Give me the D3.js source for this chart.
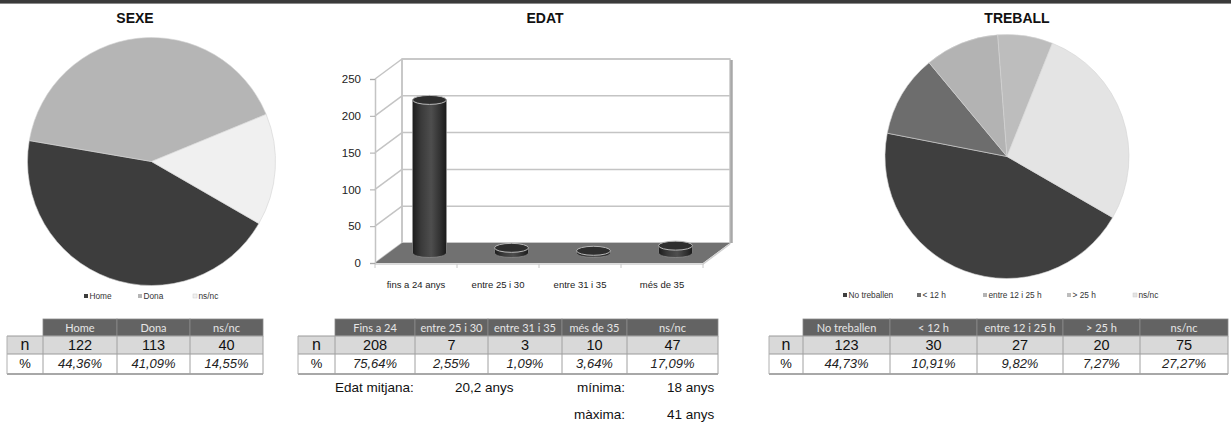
<!DOCTYPE html>
<html><head><meta charset="utf-8">
<script src="https://cdn.jsdelivr.net/npm/d3@7"></script>
<style>body{margin:0;background:#fff;} svg{display:block;font-family:"Liberation Sans",Arial,sans-serif;}</style>
</head><body><svg id="c" width="1231" height="430"></svg>
<script>
// ---------- DATA ----------
const sexeCats = ["Home", "Dona", "ns/nc"];
const sexeN = [122, 113, 40];
const sexePct = ["44,36%", "41,09%", "14,55%"];

const edatCats = ["fins a 24 anys", "entre 25 i 30", "entre 31 i 35", "més de 35"];
const edatVals = [208, 7, 3, 10];
const edatTicks = [0, 50, 100, 150, 200, 250];
const edatTableCats = ["Fins a 24", "entre 25 i 30", "entre 31 i 35", "més de 35", "ns/nc"];
const edatN = [208, 7, 3, 10, 47];
const edatPct = ["75,64%", "2,55%", "1,09%", "3,64%", "17,09%"];
const edatStatLabels = ["Edat mitjana:", "mínima:", "màxima:"];
const edatStatValues = ["20,2 anys", "18 anys", "41 anys"];

const treballCats = ["No treballen", "< 12 h", "entre 12 i 25 h", "> 25 h", "ns/nc"];
const treballN = [123, 30, 27, 20, 75];
const treballPct = ["44,73%", "10,91%", "9,82%", "7,27%", "27,27%"];

// ---------- STYLES ----------
const sexeColors = ["#3d3d3d", "#b5b5b5", "#f0f0f0"];
const treballColors = ["#3f3f3f", "#6d6d6d", "#b3b3b3", "#bdbdbd", "#e4e4e4"];

const svg = d3.select("#c");

// top band
svg.append("rect").attr("x", 0).attr("y", 0).attr("width", 1231).attr("height", 3).attr("fill", "#3a3a3a");
svg.append("rect").attr("x", 0).attr("y", 3).attr("width", 1231).attr("height", 1).attr("fill", "#8a8a8a");

function title(txt, x) {
  svg.append("text").attr("x", x).attr("y", 23).attr("text-anchor", "middle")
    .attr("font-weight", "bold").attr("font-size", 14).attr("fill", "#111").text(txt);
}
title("SEXE", 135);
title("EDAT", 545);
title("TREBALL", 1017);

const START = 120 * Math.PI / 180;
function drawPie(cx, cy, r, vals, colors) {
  const pie = d3.pie().sort(null).startAngle(START).endAngle(START + 2 * Math.PI);
  const arc = d3.arc().innerRadius(0).outerRadius(r);
  svg.append("g").attr("transform", `translate(${cx},${cy})`)
    .selectAll("path").data(pie(vals)).join("path")
    .attr("d", arc).attr("fill", (d, i) => colors[i])
    .attr("stroke", "#d4d4d4").attr("stroke-width", 0.6);
}
function drawLegend(cats, colors, xs, y) {
  const g = svg.append("g");
  cats.forEach((c, i) => {
    g.append("rect").attr("x", xs[i]).attr("y", y - 5).attr("width", 4).attr("height", 4)
      .attr("fill", colors[i]).attr("stroke", i === cats.length - 1 ? "#ccc" : "none").attr("stroke-width", 0.5);
    g.append("text").attr("x", xs[i] + 5.5).attr("y", y).attr("font-size", 8.3).attr("fill", "#333").text(c);
  });
}

drawPie(151.5, 161.5, 124, sexeN, sexeColors);
drawLegend(sexeCats, sexeColors, [84, 138, 193], 299);

drawPie(1007, 156.5, 122, treballN, treballColors);
drawLegend(treballCats, treballColors, [843, 917, 983, 1067, 1133], 298);

// ---------- TABLES ----------
function drawTable(labelX, edges, cats, nVals, pcts) {
  const g = svg.append("g");
  const hY = 319, nY = 336, pY = 354, bY = 374;
  const x0 = edges[0], x1 = edges[edges.length - 1];
  // header
  cats.forEach((c, i) => {
    g.append("rect").attr("x", edges[i]).attr("y", hY).attr("width", edges[i + 1] - edges[i]).attr("height", nY - hY)
      .attr("fill", "#636363").attr("stroke", "#8a8a8a").attr("stroke-width", 0.8);
    g.append("text").attr("x", (edges[i] + edges[i + 1]) / 2).attr("y", hY + 12.5).attr("text-anchor", "middle")
      .attr("font-family", "Lato, 'Open Sans', sans-serif").attr("font-size", 11).attr("fill", "#e6e6e6").text(c);
  });
  // n row
  g.append("rect").attr("x", labelX).attr("y", nY).attr("width", x1 - labelX).attr("height", pY - nY)
    .attr("fill", "#d9d9d9");
  g.append("text").attr("x", (labelX + x0) / 2).attr("y", nY + 14).attr("text-anchor", "middle")
    .attr("font-size", 16).attr("fill", "#111").text("n");
  nVals.forEach((v, i) => {
    g.append("text").attr("x", (edges[i] + edges[i + 1]) / 2).attr("y", nY + 14).attr("text-anchor", "middle")
      .attr("font-size", 14.5).attr("fill", "#111").text(v);
  });
  // % row
  g.append("text").attr("x", (labelX + x0) / 2).attr("y", pY + 14).attr("text-anchor", "middle")
    .attr("font-size", 13).attr("fill", "#111").text("%");
  pcts.forEach((v, i) => {
    g.append("text").attr("x", (edges[i] + edges[i + 1]) / 2).attr("y", pY + 14).attr("text-anchor", "middle")
      .attr("font-size", 13).attr("font-style", "italic").attr("fill", "#222").text(v);
  });
  // grid lines
  const gl = (xa, ya, xb, yb, c, w) => g.append("line").attr("x1", xa).attr("y1", ya).attr("x2", xb).attr("y2", yb)
    .attr("stroke", c).attr("stroke-width", w);
  gl(labelX, nY, x1, nY, "#9a9a9a", 1);
  gl(labelX, pY, x1, pY, "#9a9a9a", 1);
  gl(labelX, bY, x1, bY, "#a8a8a8", 2);
  gl(labelX, nY, labelX, bY, "#b0b0b0", 1);
  edges.forEach(e => gl(e, nY, e, bY, "#a0a0a0", 1));
}
drawTable(7, [43, 117, 190, 263], sexeCats, sexeN, sexePct);
drawTable(298, [335, 415, 488, 562, 627, 718], edatTableCats, edatN, edatPct);
drawTable(769, [803, 890, 977, 1063, 1140, 1228], treballCats, treballN, treballPct);

// ---------- 3D BAR CHART ----------
const DX = 27, DY = -20;
const x = d3.scaleBand().domain(edatCats).range([375, 703]).padding(0);
const y = d3.scaleLinear().domain([0, 250]).range([263, 79]);
const bc = svg.append("g");

// back wall
bc.append("rect").attr("x", x.range()[0] + DX).attr("y", y(250) + DY)
  .attr("width", x.range()[1] - x.range()[0]).attr("height", y(0) - y(250))
  .attr("fill", "#fff").attr("stroke", "#c4c4c4").attr("stroke-width", 1.5);
// right edge shadow
bc.append("line").attr("x1", x.range()[1] + DX + 1.5).attr("y1", y(250) + DY + 1)
  .attr("x2", x.range()[1] + DX + 1.5).attr("y2", y(0) + DY)
  .attr("stroke", "#a8a8a8").attr("stroke-width", 2.5);
// gridlines back + side wall
edatTicks.forEach(t => {
  bc.append("line").attr("x1", x.range()[0] + DX).attr("y1", y(t) + DY)
    .attr("x2", x.range()[1] + DX).attr("y2", y(t) + DY)
    .attr("stroke", "#c4c4c4").attr("stroke-width", 1.5);
  bc.append("line").attr("x1", x.range()[0]).attr("y1", y(t))
    .attr("x2", x.range()[0] + DX).attr("y2", y(t) + DY)
    .attr("stroke", "#c4c4c4").attr("stroke-width", 1.5);
});
// side wall back edge
bc.append("line").attr("x1", x.range()[0] + DX).attr("y1", y(0) + DY).attr("x2", x.range()[0] + DX).attr("y2", y(250) + DY)
  .attr("stroke", "#c4c4c4").attr("stroke-width", 1.5);

// floor
const fx0 = x.range()[0], fx1 = x.range()[1], fy = y(0);
bc.append("path")
  .attr("d", `M${fx0},${fy}L${fx1},${fy}L${fx1 + DX},${fy + DY}L${fx0 + DX},${fy + DY}Z`)
  .attr("fill", "#717171");
bc.append("path")
  .attr("d", `M${fx0},${fy + 1}L${fx1},${fy + 1}L${fx1 + DX},${fy + DY + 1}`)
  .attr("fill", "none").attr("stroke", "#cfcfcf").attr("stroke-width", 1.5);

// y axis
const yAxis = d3.axisLeft(y).tickValues(edatTicks).tickSize(5).tickPadding(9);
const ya = bc.append("g").attr("transform", `translate(${x.range()[0]},0)`).call(yAxis);
ya.select(".domain").attr("stroke", "#c4c4c4").attr("stroke-width", 1.5);
ya.selectAll(".tick line").attr("stroke", "#aaa");
ya.selectAll("text").attr("font-size", 11.5).attr("fill", "#222").attr("font-family", "Liberation Sans, Arial, sans-serif");

// x axis
const xAxis = d3.axisBottom(x).tickSize(0).tickPadding(18);
const xa = bc.append("g").attr("transform", `translate(0,${fy})`).call(xAxis);
xa.select(".domain").remove();
xa.selectAll("text").attr("font-size", 9.5).attr("fill", "#222").attr("font-family", "Liberation Sans, Arial, sans-serif");
edatCats.concat([null]).forEach((c, i) => {
  const xx = c === null ? x.range()[1] : x(c);
  bc.append("line").attr("x1", xx).attr("y1", fy + 1).attr("x2", xx).attr("y2", fy + 5)
    .attr("stroke", "#c8c8c8").attr("stroke-width", 1);
});

// cylinder gradients
const defs = svg.append("defs");
const grad = defs.append("linearGradient").attr("id", "cyl").attr("x1", "0%").attr("x2", "100%").attr("y1", "0%").attr("y2", "0%");
[["0%", "#1c1c1c"], ["25%", "#3a3a3a"], ["55%", "#4e4e4e"], ["80%", "#333"], ["100%", "#1a1a1a"]]
  .forEach(s => grad.append("stop").attr("offset", s[0]).attr("stop-color", s[1]));

const rx = 17, ry = 4.5;
const bars = bc.selectAll("g.bar").data(edatCats.map((c, i) => ({ c, v: edatVals[i] }))).join("g").attr("class", "bar");
bars.each(function (d) {
  const g = d3.select(this);
  const cx = x(d.c) + x.bandwidth() / 2 + DX / 2;
  const yb = y(0) + DY / 2;
  const yt = y(d.v) + DY / 2;
  g.append("path")
    .attr("d", `M${cx - rx},${yt}L${cx - rx},${yb}A${rx},${ry} 0 0 0 ${cx + rx},${yb}L${cx + rx},${yt}Z`)
    .attr("fill", "url(#cyl)").attr("stroke", "#9a9a9a").attr("stroke-width", 0.6);
  g.append("ellipse").attr("cx", cx).attr("cy", yt).attr("rx", rx).attr("ry", ry)
    .attr("fill", "#2e2e2e").attr("stroke", "#b8b8b8").attr("stroke-width", 1);
});

// stats text
const st = svg.append("g").attr("font-size", 13.5).attr("fill", "#111");
st.append("text").attr("x", 335).attr("y", 392).text(edatStatLabels[0]);
st.append("text").attr("x", 455).attr("y", 392).text(edatStatValues[0]);
st.append("text").attr("x", 625).attr("y", 392).attr("text-anchor", "end").text(edatStatLabels[1]);
st.append("text").attr("x", 667).attr("y", 392).text(edatStatValues[1]);
st.append("text").attr("x", 625).attr("y", 419).attr("text-anchor", "end").text(edatStatLabels[2]);
st.append("text").attr("x", 667).attr("y", 419).text(edatStatValues[2]);
</script>
</body></html>
